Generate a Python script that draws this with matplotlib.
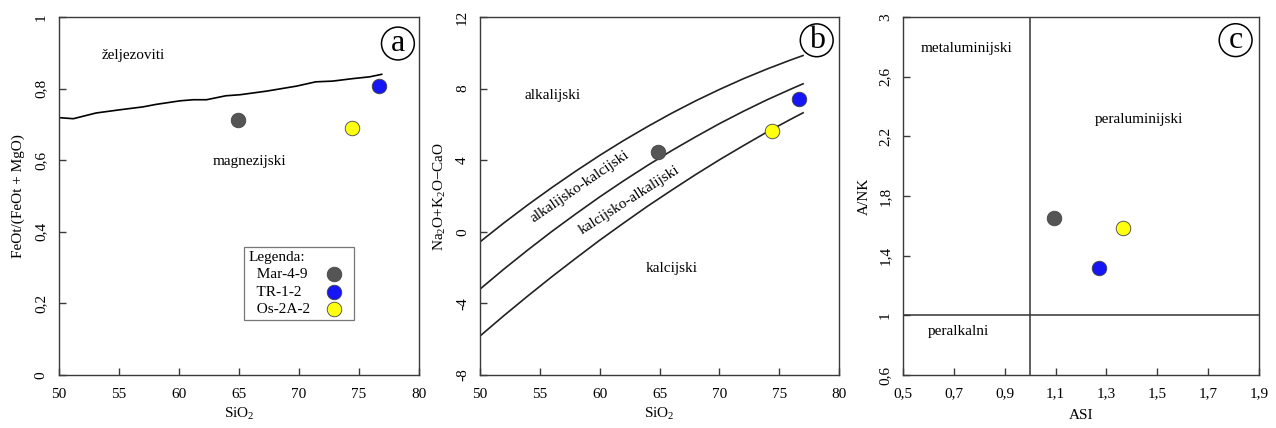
import matplotlib
matplotlib.use('Agg')
import matplotlib.pyplot as plt
from matplotlib.ticker import FuncFormatter, MultipleLocator

plt.rcParams['font.family'] = ['Liberation Serif', 'DejaVu Serif']
plt.rcParams['mathtext.fontset'] = 'custom'
plt.rcParams['mathtext.rm'] = 'Liberation Serif'
plt.rcParams['mathtext.it'] = 'Liberation Serif:italic'

# uzorci
samples = ['Mar-4-9', 'TR-1-2', 'Os-2A-2']
colors = ['#555555', '#1515f5', '#ffff10']

# (a) Fe-broj
sio2 = [64.9, 76.7, 74.4]
fe_num = [0.713, 0.808, 0.690]
fe_line_x = [50, 51.2, 53.1, 55.1, 57.0, 58.1, 60.1, 61.2, 62.3, 63.9, 65.1,
             67.3, 69.8, 71.4, 72.8, 74.5, 75.9, 76.9]
fe_line_y = [0.719, 0.716, 0.732, 0.741, 0.749, 0.756, 0.766, 0.769, 0.769,
             0.780, 0.783, 0.793, 0.807, 0.819, 0.821, 0.828, 0.833, 0.840]

# (b) MALI
mali = [4.47, 7.42, 5.62]
mali_x = [50, 52, 54, 56, 58, 60, 62, 64, 66, 68, 70, 72, 74, 76, 77]
mali_upper = [-0.56, 0.50, 1.51, 2.47, 3.39, 4.27, 5.10, 5.88, 6.62, 7.31,
              7.95, 8.55, 9.10, 9.61, 9.85]
mali_mid = [-3.20, -2.08, -1.01, 0.02, 1.00, 1.95, 2.85, 3.71, 4.53, 5.30,
            6.04, 6.73, 7.38, 7.98, 8.27]
mali_low = [-5.82, -4.68, -3.58, -2.51, -1.48, -0.47, 0.49, 1.43, 2.32, 3.19,
            4.02, 4.81, 5.58, 6.30, 6.65]

# (c) ASI vs A/NK
asi = [1.094, 1.272, 1.365]
a_nk = [1.654, 1.319, 1.587]
c_xticks = [0.5, 0.7, 0.9, 1.1, 1.3, 1.5, 1.7, 1.9]
c_yticks = [0.6, 1.0, 1.4, 1.8, 2.2, 2.6, 3.0]

fig = plt.figure(figsize=(12.76, 4.28), dpi=100)
ax_a = fig.add_axes([0.0462, 0.1238, 0.2821, 0.8364])
ax_b = fig.add_axes([0.3762, 0.1238, 0.2813, 0.8364])
ax_c = fig.add_axes([0.7077, 0.1238, 0.2790, 0.8364])

comma = FuncFormatter(lambda v, p: '{:g}'.format(round(v, 2)).replace('.', ','))
spine_col = '#3a3a3a'


def style(ax):
    for s in ax.spines.values():
        s.set_color(spine_col)
        s.set_linewidth(1.0)
    ax.tick_params(direction='in', length=5, width=1, color=spine_col,
                   labelsize=11, pad=9, top=False, right=False)
    ax.tick_params(axis='y', labelrotation=90, pad=8)
    for lab in ax.get_yticklabels():
        lab.set_va('center')
    ax.xaxis.set_major_formatter(comma)
    ax.yaxis.set_major_formatter(comma)


def letter(ax, x, y, s):
    ax.text(x, y, s, fontsize=23, ha='center', va='center',
            bbox=dict(boxstyle='circle,pad=0.06', fc='white', ec='black', lw=1.1))


# panel a
ax_a.plot(fe_line_x, fe_line_y, color='black', lw=1.2)
for i in range(3):
    ax_a.scatter(sio2[i], fe_num[i], s=110, c=colors[i], edgecolors='#444444',
                 linewidths=0.6, zorder=3, label='  ' + samples[i])
ax_a.set_xlim(50, 80)
ax_a.set_ylim(0, 1)
ax_a.xaxis.set_major_locator(MultipleLocator(5))
ax_a.yaxis.set_major_locator(MultipleLocator(0.2))
ax_a.text(56.2, 0.893, 'željezoviti', fontsize=11, ha='center', va='center')
ax_a.text(65.9, 0.597, 'magnezijski', fontsize=11, ha='center', va='center')
letter(ax_a, 78.25, 0.926, 'a')
ax_a.set_xlabel('SiO$_2$', fontsize=11, labelpad=4)
ax_a.set_ylabel('FeOt/(FeOt + MgO)', fontsize=11, labelpad=7)
leg = ax_a.legend(title='Legenda:', loc='upper left', bbox_to_anchor=(0.514, 0.358),
                  borderaxespad=0, markerfirst=False, fontsize=11,
                  title_fontsize=11, frameon=True, fancybox=False,
                  edgecolor='#777777', framealpha=1, handletextpad=0.6,
                  borderpad=0.3, labelspacing=0.22, alignment='left')
leg.get_frame().set_linewidth(0.9)
style(ax_a)

# panel b
for yy in (mali_upper, mali_mid, mali_low):
    ax_b.plot(mali_x, yy, color='#222222', lw=1.2)
for i in range(3):
    ax_b.scatter(sio2[i], mali[i], s=110, c=colors[i], edgecolors='#444444',
                 linewidths=0.6, zorder=3)
ax_b.set_xlim(50, 80)
ax_b.set_ylim(-8, 12)
ax_b.xaxis.set_major_locator(MultipleLocator(5))
ax_b.yaxis.set_major_locator(MultipleLocator(4))
ax_b.text(56.1, 7.6, 'alkalijski', fontsize=11, ha='center', va='center')
ax_b.text(58.35, 2.5, 'alkalijsko-kalcijski', fontsize=11, ha='center', va='center',
          rotation=34.5, rotation_mode='anchor')
ax_b.text(62.45, 1.75, 'kalcijsko-alkalijski', fontsize=11, ha='center', va='center',
          rotation=32.5, rotation_mode='anchor')
ax_b.text(66.0, -2.05, 'kalcijski', fontsize=11, ha='center', va='center')
letter(ax_b, 78.14, 10.7, 'b')
ax_b.set_xlabel('SiO$_2$', fontsize=11, labelpad=4)
ax_b.set_ylabel('Na$_2$O+K$_2$O$-$CaO', fontsize=11, labelpad=6)
style(ax_b)

# panel c
ax_c.axvline(1.0, color='#333333', lw=1.1)
ax_c.axhline(1.0, color='#333333', lw=1.1)
for i in range(3):
    ax_c.scatter(asi[i], a_nk[i], s=110, c=colors[i], edgecolors='#444444',
                 linewidths=0.6, zorder=3)
ax_c.set_xlim(0.5, 1.9)
ax_c.set_ylim(0.6, 3.0)
ax_c.set_xticks(c_xticks)
ax_c.set_yticks(c_yticks)
ax_c.text(0.749, 2.79, 'metaluminijski', fontsize=11, ha='center', va='center')
ax_c.text(1.427, 2.31, 'peraluminijski', fontsize=11, ha='center', va='center')
ax_c.text(0.716, 0.895, 'peralkalni', fontsize=11, ha='center', va='center')
letter(ax_c, 1.808, 2.845, 'c')
ax_c.set_xlabel('ASI', fontsize=11, labelpad=6)
ax_c.set_ylabel('A/NK', fontsize=11, labelpad=6)
style(ax_c)

# legenda: tekst poravnat lijevo, kruzici u istom stupcu
fig.canvas.draw()
rend = fig.canvas.get_renderer()
rows = leg._legend_handle_box.get_children()[0].get_children()
widths = [r.get_children()[0].get_window_extent(rend).width for r in rows]
base = leg.handletextpad * leg._fontsize
for r, w in zip(rows, widths):
    r.sep = base + (max(widths) - w) * 72.0 / fig.dpi
leg._legend_title_box.sep = 0

fig.savefig('out.png', dpi=100)
